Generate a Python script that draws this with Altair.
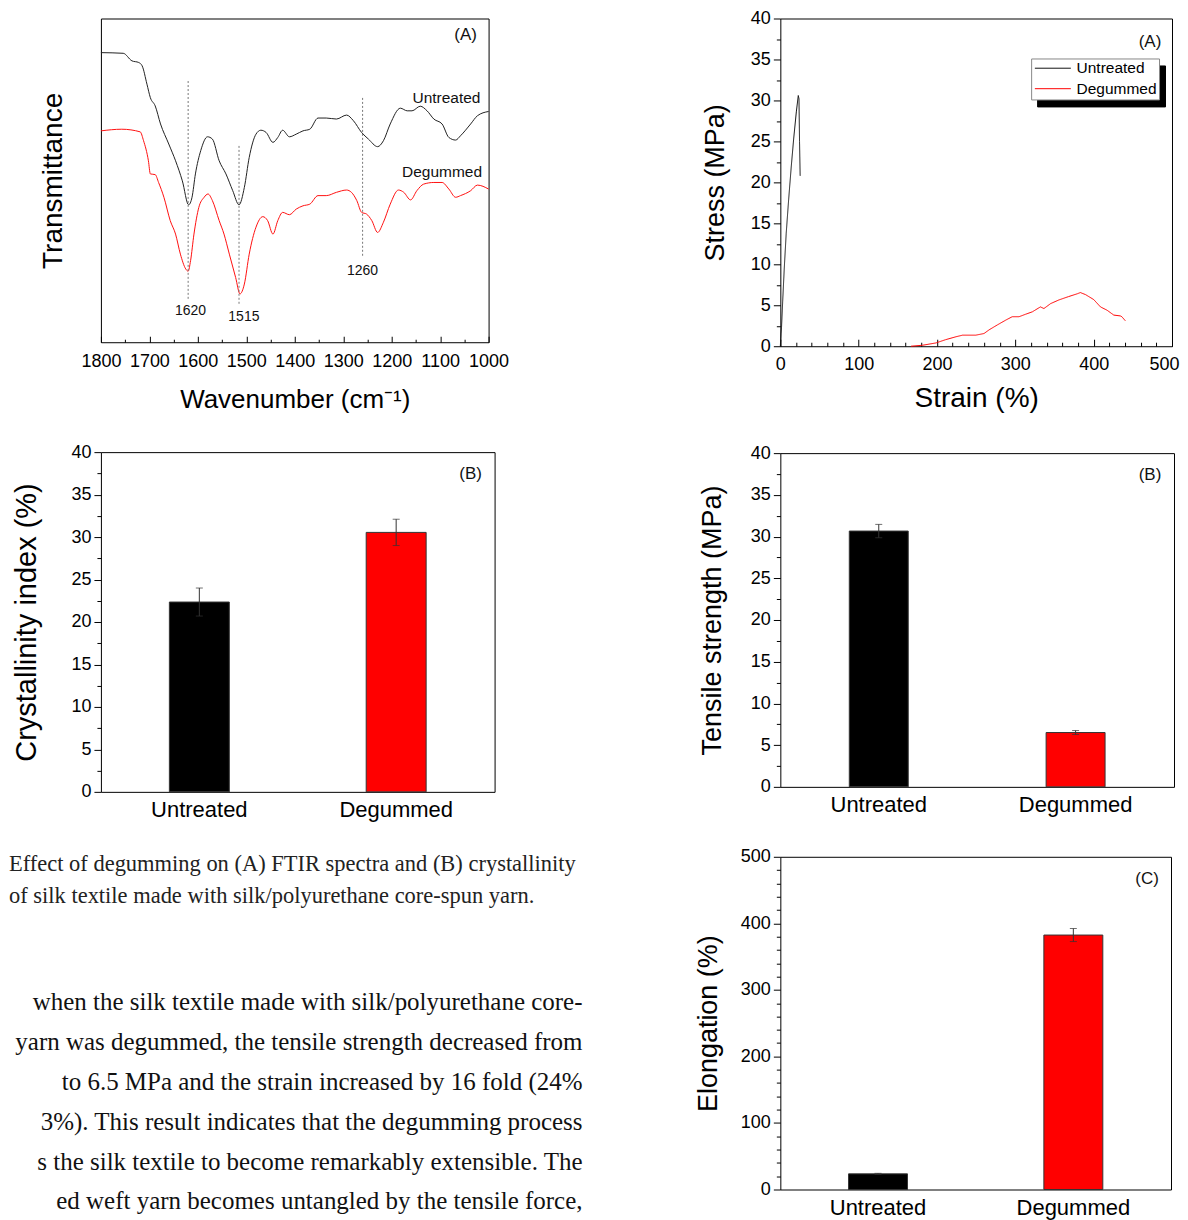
import altair as alt
import pandas as pd

SANS = "Liberation Sans"
SERIF = "Liberation Serif"
samples = ["Untreated", "Degummed"]

# ---------------- FTIR spectra (transmittance in arbitrary units) ----------------
ftir_wn_untreated = [1800, 1754, 1736, 1722, 1715, 1705, 1698, 1688, 1677, 1660,
                     1646, 1632, 1619, 1612, 1605, 1594, 1580, 1570, 1556, 1542,
                     1528, 1515, 1504, 1494, 1480, 1470, 1459, 1445, 1435, 1425,
                     1411, 1397, 1383, 1369, 1352, 1335, 1314, 1293, 1279, 1262,
                     1248, 1229, 1217, 1203, 1182, 1168, 1158, 1141, 1127, 1113,
                     1096, 1082, 1068, 1058, 1037, 1023, 1000]
ftir_t_untreated = [88.1, 87.9, 85.6, 85.1, 84.1, 78.5, 74.4, 71.9, 66.4, 60.3,
                    55.2, 49.1, 41.8, 44.1, 51.2, 58.3, 62.5, 61.8, 55.2, 51.2,
                    46.1, 41.8, 47.1, 56.2, 63.3, 64.5, 63.8, 60.8, 62.3, 64.5,
                    62.5, 63.3, 64.3, 64.8, 68.2, 68.2, 67.9, 69.1, 67.4, 63.8,
                    61.8, 59.5, 61.3, 66.4, 71.2, 70.4, 70.4, 71.8, 70.4, 67.9,
                    66.4, 62.3, 61.5, 62.8, 66.4, 68.9, 70.2]
ftir_wn_degummed = [1800, 1757, 1719, 1712, 1702, 1698, 1688, 1681, 1670, 1657,
                    1646, 1636, 1625, 1620, 1615, 1608, 1598, 1587, 1579, 1570,
                    1556, 1546, 1535, 1522, 1513, 1504, 1494, 1480, 1466, 1456,
                    1445, 1435, 1425, 1411, 1397, 1383, 1369, 1352, 1335, 1314,
                    1293, 1283, 1272, 1262, 1252, 1241, 1229, 1217, 1203, 1186,
                    1175, 1161, 1148, 1134, 1113, 1096, 1082, 1068, 1058, 1037,
                    1023, 1000]
ftir_t_degummed = [64.3, 64.8, 64.0, 61.3, 55.2, 51.2, 51.0, 48.6, 44.1, 37.0,
                   32.9, 26.8, 22.3, 21.6, 24.8, 32.9, 41.0, 44.1, 45.1, 43.1,
                   37.0, 32.9, 26.8, 19.7, 14.7, 17.7, 26.8, 35.0, 38.2, 37.0,
                   32.9, 37.0, 39.5, 38.8, 40.5, 41.5, 42.0, 44.6, 44.6, 45.6,
                   46.3, 45.6, 43.1, 39.5, 39.0, 37.0, 33.4, 36.5, 42.0, 46.3,
                   45.6, 43.3, 46.1, 48.1, 48.6, 48.6, 46.6, 44.1, 44.6, 46.1,
                   47.8, 46.6]

peak_wn = [1620, 1515, 1260]
peak_lo = [13.2, 11.7, 26.3]
peak_hi = [79.5, 59.8, 74.5]
peak_labels = ["1620", "1515", "1260"]
peak_label_wn = [1615, 1505, 1260]
peak_label_t = [9.4, 7.75, 21.6]
ftir_name_wn = [1087, 1096]
ftir_name_t = [74.3, 51.7]

# ---------------- Stress-strain curves ----------------
ss_strain_untreated = [0, 0.8, 1.5, 3.0, 5.0, 7.5, 10.6, 14.0, 17.0, 20.4, 22.9, 23.8, 24.5, 25.3]
ss_stress_untreated = [0, 1.5, 2.3, 5.5, 9.5, 13.8, 17.9, 22.0, 25.3, 28.6, 30.6, 30.2, 25.0, 20.8]
ss_strain_degummed = [166.8, 181.6, 198.6, 211, 224, 232.6, 249.5, 260, 266.5, 277,
                      288, 296, 304.7, 313, 321.7, 332, 336.5, 345, 355.6, 368,
                      379, 383, 389.6, 400, 408.7, 417, 425.7, 434, 436, 440.5]
ss_stress_degummed = [0, 0.12, 0.4, 0.8, 1.15, 1.35, 1.35, 1.55, 2.0, 2.6,
                      3.2, 3.6, 3.6, 3.9, 4.2, 4.8, 4.6, 5.2, 5.65, 6.06,
                      6.4, 6.55, 6.3, 5.7, 4.8, 4.4, 3.8, 3.7, 3.6, 3.1]

# ---------------- Bar data ----------------
cryst_mean = [22.35, 30.55]
cryst_err = [1.65, 1.55]
tensile_mean = [30.66, 6.51]
tensile_err = [0.8, 0.24]
elong_mean = [23.5, 382.4]
elong_err = [0.8, 9.8]

# ---------------- Text ----------------
caption_lines = [
    "Effect of degumming on (A) FTIR spectra and (B) crystallinity",
    "of silk textile made with silk/polyurethane core-spun yarn.",
]
paragraph_lines = [
    "when the silk textile made with silk/polyurethane core-",
    "yarn was degummed, the tensile strength decreased from",
    "to 6.5 MPa and the strain increased by 16 fold (24%",
    "3%). This result indicates that the degumming process",
    "s the silk textile to become remarkably extensible. The",
    "ed weft yarn becomes untangled by the tensile force,",
]


def letter_layer(letter, x, y):
    return alt.Chart(pd.DataFrame({"t": [letter]})).mark_text(
        font=SANS, fontSize=17, color="#111111", align="center", baseline="middle"
    ).encode(x=alt.value(x), y=alt.value(y), text="t:N")


# ================= FTIR panel =================
FTIR_W, FTIR_H = 388, 324
FTIR_TOP = 100 * 324 / 329
ftir_df = pd.DataFrame({
    "wn": ftir_wn_untreated + ftir_wn_degummed,
    "t": ftir_t_untreated + ftir_t_degummed,
    "series": ["Untreated"] * len(ftir_wn_untreated) + ["Degummed"] * len(ftir_wn_degummed),
})
peaks_df = pd.DataFrame({"wn": peak_wn, "lo": peak_lo, "hi": peak_hi,
                         "label": peak_labels, "lwn": peak_label_wn, "lt": peak_label_t})
names_df = pd.DataFrame({"name": samples, "wn": ftir_name_wn, "t": ftir_name_t})

fx = alt.Scale(domain=[1000, 1800], reverse=True, nice=False, zero=False)
fy = alt.Scale(domain=[0, FTIR_TOP], nice=False, zero=False)

ftir_lines = alt.Chart(ftir_df).mark_line(strokeWidth=1, interpolate="monotone").encode(
    x=alt.X("wn:Q", scale=fx, axis=alt.Axis(
        values=list(range(1000, 1801, 100)), format="d", orient="bottom", offset=-6,
        tickSize=6, domain=False, labelPadding=10, labelFontSize=18, labelOverlap=False,
        labelFlush=False, title="Wavenumber (cm⁻¹)", titleFontSize=26, titlePadding=16)),
    y=alt.Y("t:Q", scale=fy, axis=alt.Axis(
        labels=False, ticks=False, domain=False, title="Transmittance",
        titleFontSize=28, titlePadding=33)),
    color=alt.Color("series:N", scale=alt.Scale(domain=samples, range=["#222222", "#ff1010"]), legend=None),
)
ftir_rules = alt.Chart(peaks_df).mark_rule(color="#777777", strokeDash=[2, 2], strokeWidth=1).encode(
    x=alt.X("wn:Q", scale=fx), y=alt.Y("lo:Q", scale=fy), y2="hi:Q")
ftir_peak_text = alt.Chart(peaks_df).mark_text(font=SANS, fontSize=14, color="#111111", baseline="middle").encode(
    x=alt.X("lwn:Q", scale=fx), y=alt.Y("lt:Q", scale=fy), text="label:N")
ftir_name_text = alt.Chart(names_df).mark_text(font=SANS, fontSize=15.5, color="#111111", baseline="middle").encode(
    x=alt.X("wn:Q", scale=fx), y=alt.Y("t:Q", scale=fy), text="name:N")
ftir_minor = alt.Chart(ftir_df).mark_point(opacity=0).encode(
    x=alt.X("wn:Q", scale=fx, axis=alt.Axis(
        values=list(range(1050, 1800, 100)), orient="bottom", offset=-3, tickSize=3,
        labels=False, domain=False, title=None)))

ftir = alt.layer(
    alt.layer(ftir_lines, ftir_rules, ftir_peak_text, ftir_name_text, letter_layer("(A)", FTIR_W - 23, 17)),
    ftir_minor,
).resolve_scale(x="independent").resolve_axis(x="independent").properties(width=FTIR_W, height=FTIR_H)

# ================= Stress-strain panel =================
SS_W, SS_H = 392, 328
ss_df = pd.DataFrame({
    "strain": ss_strain_untreated + ss_strain_degummed,
    "stress": ss_stress_untreated + ss_stress_degummed,
    "series": ["Untreated"] * len(ss_strain_untreated) + ["Degummed"] * len(ss_strain_degummed),
})
# the legend's drop shadow is a second legend on a copy of the series names
shadow_names = [s + " " for s in samples]
ss_df["shadow"] = ss_df["series"] + " "
sx = alt.Scale(domain=[0, 500], nice=False)
sy = alt.Scale(domain=[0, 40], nice=False)

legend_common = dict(title=None, orient="none", padding=2, symbolType="M-1,0H5", symbolSize=144,
                     symbolStrokeWidth=1, labelFont=SANS, labelFontSize=15.5, rowPadding=3.5)
ss_lines = alt.Chart(ss_df).mark_line(strokeWidth=1).encode(
    x=alt.X("strain:Q", scale=sx, axis=alt.Axis(
        values=list(range(0, 501, 100)), orient="bottom", offset=-7, tickSize=7, domain=False,
        labelPadding=9, labelOverlap=False, labelFlush=False,
        labelAlign={"condition": {"test": "datum.value >= 500", "value": "right"}, "value": "center"},
        labelOffset={"condition": {"test": "datum.value >= 500", "value": 7}, "value": 0},
        title="Strain (%)", titleFontSize=28, titlePadding=11)),
    y=alt.Y("stress:Q", scale=sy, axis=alt.Axis(
        values=list(range(0, 41, 5)), orient="left", tickSize=7, labelPadding=3, domain=False,
        labelOverlap=False, title="Stress (MPa)", titleFontSize=27, titlePadding=21)),
    color=alt.Color("series:N", scale=alt.Scale(domain=samples, range=["#111111", "#ff0000"]),
                    legend=alt.Legend(legendX=251, legendY=40, fillColor="#ffffff", labelColor="#000000",
                                      strokeColor="#888888", zindex=2, labelOffset=28, **legend_common)),
    strokeDash=alt.StrokeDash("shadow:N", scale=alt.Scale(domain=shadow_names, range=[[1, 0], [1, 0]]),
                              legend=alt.Legend(legendX=257, legendY=47, fillColor="#000000",
                                                labelColor="#000000", labelExpr="''", labelOffset=108,
                                                strokeColor="#000000", symbolStrokeColor="#000000",
                                                zindex=1, **legend_common)),
)
ss_minor = alt.Chart(ss_df).mark_point(opacity=0).encode(
    x=alt.X("strain:Q", scale=sx, axis=alt.Axis(
        values=[v for v in range(20, 500, 20) if v % 100], orient="bottom", offset=-4, tickSize=4,
        labels=False, domain=False, title=None)),
    y=alt.Y("stress:Q", scale=sy, axis=alt.Axis(
        values=[2.5 + 5 * i for i in range(8)], orient="left", tickSize=4, labels=False,
        domain=False, title=None)),
)
stress = alt.layer(
    alt.layer(ss_lines, letter_layer("(A)", SS_W - 22, 24)), ss_minor
).resolve_scale(x="independent", y="independent").resolve_axis(
    x="independent", y="independent").properties(width=SS_W, height=SS_H)


# ================= Bar panels =================
def bar_panel(means, errs, ymax, major, minor, title, title_size, title_pad, letter, width, height, bar_w):
    df = pd.DataFrame({"sample": samples, "value": means,
                       "lo": [m - e for m, e in zip(means, errs)],
                       "hi": [m + e for m, e in zip(means, errs)]})
    ys = alt.Scale(domain=[0, ymax], nice=False)
    xs = alt.Scale(domain=samples, paddingInner=0, paddingOuter=0)
    x = alt.X("sample:N", sort=samples, scale=xs, axis=alt.Axis(
        title=None, ticks=False, domain=False, labelAngle=0, labelFontSize=22, labelPadding=8))
    bars = alt.Chart(df).mark_bar(size=bar_w, stroke="#333333", strokeWidth=1).encode(
        x=x,
        y=alt.Y("value:Q", scale=ys, axis=alt.Axis(
            values=major, orient="left", tickSize=7, labelPadding=3, domain=False, labelOverlap=False,
            title=title, titleFontSize=title_size, titlePadding=title_pad)),
        color=alt.Color("sample:N", scale=alt.Scale(domain=samples, range=["#000000", "#ff0000"]), legend=None),
    )
    stem = alt.Chart(df).mark_rule(color="#333333", strokeWidth=1).encode(
        x=alt.X("sample:N", sort=samples, scale=xs), y=alt.Y("lo:Q", scale=ys), y2="hi:Q")
    cap_hi = alt.Chart(df).mark_tick(size=7, thickness=1, color="#333333").encode(
        x=alt.X("sample:N", sort=samples, scale=xs), y=alt.Y("hi:Q", scale=ys))
    cap_lo = alt.Chart(df).mark_tick(size=7, thickness=1, color="#333333").encode(
        x=alt.X("sample:N", sort=samples, scale=xs), y=alt.Y("lo:Q", scale=ys))
    minor_layer = alt.Chart(df).mark_point(opacity=0).encode(
        y=alt.Y("value:Q", scale=ys, axis=alt.Axis(
            values=minor, orient="left", tickSize=4, labels=False, domain=False, title=None)))
    return alt.layer(
        alt.layer(bars, stem, cap_hi, cap_lo, letter_layer(letter, width - 24, 22)),
        minor_layer,
    ).resolve_scale(y="independent").resolve_axis(y="independent").properties(width=width, height=height)


cryst = bar_panel(cryst_mean, cryst_err, 40, list(range(0, 41, 5)), [2.5 + 5 * i for i in range(8)],
                  "Crystallinity index (%)", 29, 29, "(B)", 394, 340, 60)
tensile = bar_panel(tensile_mean, tensile_err, 40, list(range(0, 41, 5)), [2.5 + 5 * i for i in range(8)],
                    "Tensile strength (MPa)", 27, 24, "(B)", 394, 334, 59)
elong = bar_panel(elong_mean, elong_err, 500, list(range(0, 501, 100)),
                  [v for v in range(20, 500, 20) if v % 100],
                  "Elongation (%)", 27, 18, "(C)", 391, 333, 59)

# ================= Text block =================
TXT_W, TXT_H = 482, 360
cap_df = pd.DataFrame({"row": list(range(len(caption_lines))), "line": caption_lines})
par_df = pd.DataFrame({"row": list(range(len(paragraph_lines))), "line": paragraph_lines})
cap_top = -0.589
par_top = -3.95
cap_layer = alt.Chart(cap_df).mark_text(font=SERIF, fontSize=22.5, align="left", baseline="alphabetic",
                                        color="#222222").encode(
    x=alt.value(-92),
    y=alt.Y("row:Q", scale=alt.Scale(domain=[cap_top, cap_top + TXT_H / 32], reverse=True, nice=False, zero=False), axis=None),
    text="line:N")
par_layer = alt.Chart(par_df).mark_text(font=SERIF, fontSize=25, align="right", baseline="alphabetic",
                                        color="#111111").encode(
    x=alt.value(TXT_W),
    y=alt.Y("row:Q", scale=alt.Scale(domain=[par_top, par_top + TXT_H / 40], reverse=True, nice=False, zero=False), axis=None),
    text="line:N")
text_block = alt.layer(cap_layer, par_layer).resolve_scale(y="independent").properties(
    width=TXT_W, height=TXT_H, view=alt.ViewBackground(stroke="transparent"))

left = alt.vconcat(ftir, cryst, text_block, spacing=29).resolve_scale(
    color="independent").resolve_legend(color="independent")
right = alt.vconcat(stress, tensile, elong, spacing=30).resolve_scale(
    color="independent", strokeDash="independent").resolve_legend(color="independent", strokeDash="independent")

chart = alt.hconcat(left, right, spacing=110).resolve_scale(
    color="independent", strokeDash="independent").resolve_legend(
    color="independent", strokeDash="independent").properties(
    padding={"left": 0, "top": 0, "right": 0, "bottom": 0}
).configure(font=SANS).configure_view(stroke="#000000", strokeWidth=1).configure_axis(
    labelFont=SANS, titleFont=SANS, labelColor="#000000", titleColor="#000000",
    tickColor="#000000", titleFontWeight="normal", labelFontSize=18, grid=False
)

chart.save("out.html", embed_options={"renderer": "svg", "actions": False})
